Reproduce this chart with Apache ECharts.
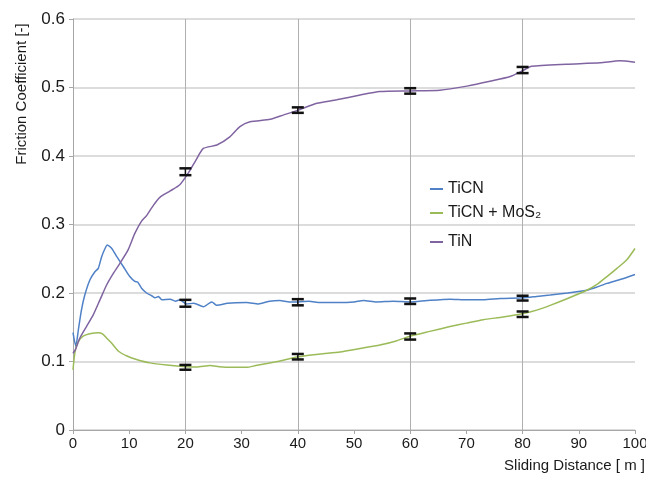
<!DOCTYPE html>
<html><head><meta charset="utf-8">
<script src="https://cdn.jsdelivr.net/npm/echarts@6/dist/echarts.min.js"></script>
<style>html,body{margin:0;padding:0;background:#fff}#c{width:646px;height:479px}</style>
</head><body><div id="c"></div>
<script>
const xTicks = [0,10,20,30,40,50,60,70,80,90,100];
const yTicks = [0,0.1,0.2,0.3,0.4,0.5,0.6];
const seriesNames = ['TiCN','TiCN + MoS₂','TiN'];

const ticn = [[0,0.142],[0.5,0.122],[0.95,0.146],[1.5,0.175],[2.1,0.197],[3.0,0.219],[3.9,0.231],[4.5,0.236],[5.1,0.253],[5.7,0.265],[6.1,0.270],[6.9,0.265],[7.8,0.253],[9.0,0.238],[10.1,0.224],[11.0,0.217],[11.5,0.216],[12.2,0.207],[13.1,0.200],[14.0,0.196],[14.6,0.193],[15.2,0.195],[15.8,0.190],[17.3,0.191],[18.2,0.188],[19.0,0.190],[20.2,0.184],[21.5,0.185],[23.2,0.180],[24.7,0.187],[25.6,0.182],[27.5,0.185],[30.9,0.186],[33.0,0.184],[35.0,0.188],[36.8,0.189],[38.5,0.187],[40.1,0.187],[42.0,0.188],[44.0,0.186],[47.5,0.186],[50.0,0.187],[51.7,0.189],[54.0,0.187],[57.0,0.188],[60.0,0.187],[63.0,0.189],[67.1,0.191],[70.0,0.190],[73.0,0.190],[76.0,0.192],[80.1,0.193],[82.5,0.195],[84.9,0.197],[88.0,0.200],[91.4,0.204],[93.0,0.208],[95.0,0.214],[97.5,0.220],[100,0.227]];

const ticnMos2 = [[0,0.088],[0.36,0.114],[0.95,0.129],[1.8,0.137],[3.0,0.1405],[4.5,0.142],[5.3,0.140],[6.0,0.134],[6.9,0.1265],[8.1,0.115],[9.6,0.108],[11.3,0.103],[13.7,0.098],[16.7,0.095],[20.2,0.0925],[22.0,0.092],[24.4,0.094],[26.0,0.0925],[27.9,0.0915],[30.9,0.0915],[32.5,0.094],[34.5,0.097],[37.0,0.101],[40.1,0.107],[44.0,0.111],[47.5,0.114],[51.1,0.119],[54.6,0.124],[57.5,0.130],[60.0,0.137],[63.5,0.144],[67.1,0.151],[70.0,0.156],[73.0,0.161],[76.5,0.165],[80.1,0.170],[82.5,0.175],[84.9,0.182],[88.0,0.192],[91.4,0.204],[93.3,0.213],[95.0,0.224],[96.8,0.236],[98.5,0.248],[100,0.265]];

const tin = [[0,0.112],[0.4,0.117],[1.2,0.134],[2.4,0.151],[3.6,0.168],[4.8,0.190],[6.0,0.212],[7.2,0.229],[8.4,0.244],[9.8,0.263],[11.0,0.287],[12.2,0.305],[13.1,0.313],[14.3,0.328],[15.5,0.340],[17.3,0.349],[19.0,0.358],[20.5,0.375],[21.8,0.393],[23.2,0.411],[25.6,0.416],[27.9,0.428],[29.7,0.443],[31.5,0.450],[35.1,0.4535],[37.5,0.460],[40.1,0.467],[43.4,0.477],[46.9,0.482],[51.1,0.489],[54.6,0.494],[60.0,0.495],[65.3,0.496],[70.1,0.502],[74.2,0.509],[77.8,0.516],[80.1,0.525],[81.6,0.531],[87.8,0.534],[93.8,0.536],[97.3,0.539],[100,0.537]];

// error bars: [x, low, high]
const ticnErr = [[20,0.180,0.190],[40,0.182,0.191],[60,0.184,0.192],[80,0.189,0.196]];
const ticnMos2Err = [[20,0.088,0.095],[40,0.103,0.111],[60,0.132,0.141],[80,0.165,0.173]];
const tinErr = [[20,0.372,0.382],[40,0.463,0.471],[60,0.491,0.499],[80,0.521,0.530]];

const colors = ['#4f81c7','#9bbb59','#8064a2'];
const font = 'Liberation Sans, Arial, sans-serif';

function errSeries(data){
  return {
    type:'custom', xAxisIndex:0, yAxisIndex:0, z:10, silent:true,
    data:data,
    renderItem:function(params, api){
      const x = api.value(0);
      const lo = api.coord([x, api.value(1)]);
      const hi = api.coord([x, api.value(2)]);
      const w = 6;
      const st = {stroke:'#111', lineWidth:2.5};
      return {type:'group', children:[
        {type:'line', shape:{x1:lo[0]-w,y1:lo[1],x2:lo[0]+w,y2:lo[1]}, style:st},
        {type:'line', shape:{x1:hi[0]-w,y1:hi[1],x2:hi[0]+w,y2:hi[1]}, style:st},
        {type:'line', shape:{x1:lo[0],y1:lo[1],x2:hi[0],y2:hi[1]}, style:{stroke:'#111', lineWidth:1.5}}
      ]};
    }
  };
}

function legend(name, top){
  return {
    data:[name], left:425, top:top, orient:'vertical', icon:'rect',
    itemWidth:13, itemHeight:2, itemGap:0, selectedMode:false,
    textStyle:{fontFamily:font, fontSize:16, color:'#1a1a1a'}
  };
}

const chart = echarts.init(document.getElementById('c'), null, {renderer:'canvas'});
chart.setOption({
  animation:false,
  color:colors,
  grid:{left:73, width:562, top:19, bottom:49, containLabel:false, outerBoundsMode:'none'},
  legend:[legend(seriesNames[0],176), legend(seriesNames[1],200), legend(seriesNames[2],229)],
  xAxis:[{
    type:'value', min:xTicks[0], max:xTicks[xTicks.length-1], interval:10,
    axisLine:{show:true, lineStyle:{color:'#a6a6a6', width:1}},
    axisTick:{show:true, length:4, lineStyle:{color:'#a6a6a6'}},
    axisLabel:{fontFamily:font, fontSize:15, color:'#1a1a1a', margin:6},
    splitLine:{show:false}
  },{
    type:'value', min:0, max:100, interval:20, position:'top',
    axisLine:{show:false}, axisTick:{show:false}, axisLabel:{show:false},
    splitLine:{show:true, showMinLine:false, showMaxLine:false, lineStyle:{color:'#b0b0b0', width:1}}
  }],
  yAxis:{
    type:'value', min:yTicks[0], max:yTicks[yTicks.length-1], interval:0.1,
    axisLine:{show:true, lineStyle:{color:'#a6a6a6', width:1}},
    axisTick:{show:true, length:4, lineStyle:{color:'#a6a6a6'}},
    axisLabel:{fontFamily:font, fontSize:17, color:'#1a1a1a', margin:8,
      formatter:function(v){return v===0?'0':v.toFixed(1);}},
    splitLine:{show:true, lineStyle:{color:'#d0d0d0', width:1.5}}
  },
  graphic:[
    {type:'text', x:22, y:94, rotation:Math.PI/2,
      style:{text:'Friction Coefficient [-]', fontFamily:font, fontSize:15, fill:'#1a1a1a', align:'center', verticalAlign:'middle'}},
    {type:'text', x:645, y:466,
      style:{text:'Sliding Distance [ m ]', fontFamily:font, fontSize:15, fill:'#1a1a1a', align:'right', verticalAlign:'middle'}}
  ],
  series:[
    {name:seriesNames[0], type:'line', data:ticn, showSymbol:false, smooth:0.2, lineStyle:{width:1.5, color:colors[0]}, itemStyle:{color:colors[0]}},
    {name:seriesNames[1], type:'line', data:ticnMos2, showSymbol:false, smooth:0.2, lineStyle:{width:1.5, color:colors[1]}, itemStyle:{color:colors[1]}},
    {name:seriesNames[2], type:'line', data:tin, showSymbol:false, smooth:0.2, lineStyle:{width:1.5, color:colors[2]}, itemStyle:{color:colors[2]}},
    errSeries(ticnErr), errSeries(ticnMos2Err), errSeries(tinErr)
  ]
});
</script></body></html>
